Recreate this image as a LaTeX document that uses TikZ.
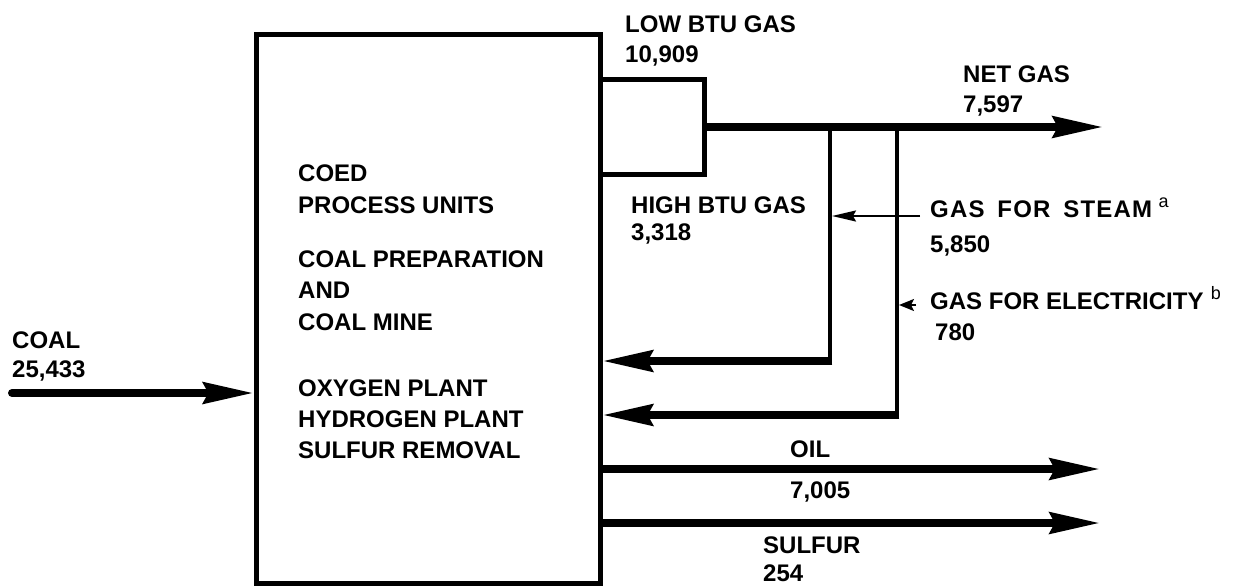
\documentclass[tikz,border=0pt]{standalone}
\usepackage{fontspec}
\setmainfont{Liberation Sans}
\usetikzlibrary{arrows.meta}
\begin{document}
\begin{tikzpicture}[x=1pt,y=-1pt,
  lbl/.style={anchor=base west, inner sep=0pt, font=\fontsize{24}{28}\selectfont\bfseries},
  wide/.style={font=\fontsize{24}{28}\selectfont\bfseries\addfontfeature{LetterSpace=5}},
  boxline/.style={draw, line width=5pt, inner sep=0pt},
  flow/.style={line width=8pt, -{Stealth[length=50pt,width=21pt,inset=5pt]}},
  pipe/.style={line width=4.5pt},
  thinflow/.style={line width=2pt, -{Stealth[length=24pt,width=11pt,inset=3pt]}},
  sup/.style={anchor=base west, inner sep=0pt, font=\fontsize{18}{18}\selectfont}]
\useasboundingbox (0,0) rectangle (1235,587);
% boxes
\node[boxline, minimum width=344pt, minimum height=548.5pt] (box) at (428,308.75) {};
\node[boxline, minimum width=104pt, minimum height=95pt] (small) at (652,127) {};
% coordinates
\coordinate (coal0) at (12,393);
\coordinate (netend) at (1103,127);
\coordinate (j1) at (830,127);
\coordinate (j2) at (897,127);
\coordinate (b1) at (830,361);
\coordinate (b2) at (897,415);
\coordinate (oilend) at (1100,469);
\coordinate (sulend) at (1100,523);
\coordinate (steam0) at (920,216);
\coordinate (elec0) at (916,305);
% flows
\draw[flow, line cap=round] (coal0) -- (coal0 -| box.west);
\draw[flow] (small.east) -- (netend);
\draw[pipe] (j1) -- ([yshift=-4pt]b1);
\draw[pipe] (j2) -- ([yshift=-4pt]b2);
\draw[flow] ([xshift=2.25pt]b1) -- (b1 -| box.east);
\draw[flow] ([xshift=2.25pt]b2) -- (b2 -| box.east);
\draw[flow] (oilend -| box.east) -- (oilend);
\draw[flow] (sulend -| box.east) -- (sulend);
\draw[thinflow] (steam0) -- ([xshift=2pt]steam0 -| j1);
\draw[line width=2pt, -{Stealth[length=15pt,width=12pt,inset=3pt]}] (elec0) -- ([xshift=2pt]elec0 -| j2);
% labels
\node[lbl] (coal) at (12,348) {COAL};
\node[lbl] (coalv) at (12,377) {25,433};
\node[lbl] (low) at (625,32) {LOW BTU GAS};
\node[lbl] (lowv) at (625,62) {10,909};
\node[lbl] (net) at (963,82) {NET GAS};
\node[lbl] (netv) at (963,112) {7,597};
\node[lbl] (high) at (631,213) {HIGH BTU GAS};
\node[lbl] (highv) at (631,240) {3,318};
\node[lbl, wide] (steam) at (930,217) {GAS\hspace{5pt} FOR\hspace{5pt} STEAM};
\node[sup] (supa) at ([xshift=6pt,yshift=10pt]steam.base east) {a};
\node[lbl] (steamv) at (930,252) {5,850};
\node[lbl] (elec) at (930,309) {GAS FOR ELECTRICITY};
\node[sup] (supb) at ([xshift=7pt,yshift=10pt]elec.base east) {b};
\node[lbl] (elecv) at (935,340) {780};
\node[lbl] (u1) at (298,181) {COED};
\node[lbl] (u2) at (298,213) {PROCESS UNITS};
\node[lbl] (u3) at (298,267) {COAL PREPARATION};
\node[lbl] (u4) at (298,298) {AND};
\node[lbl] (u5) at (298,330) {COAL MINE};
\node[lbl] (u6) at (298,396) {OXYGEN PLANT};
\node[lbl] (u7) at (298,427) {HYDROGEN PLANT};
\node[lbl] (u8) at (298,458) {SULFUR REMOVAL};
\node[lbl] (oil) at (790,457) {OIL};
\node[lbl] (oilv) at (790,498) {7,005};
\node[lbl] (sul) at (763,553) {SULFUR};
\node[lbl] (sulv) at (763,581) {254};
\end{tikzpicture}
\end{document}
